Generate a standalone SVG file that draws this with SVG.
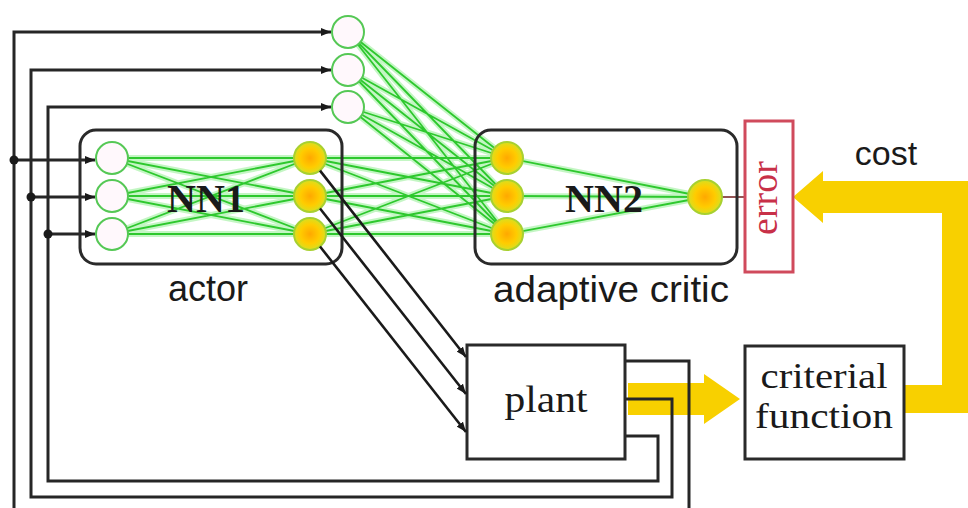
<svg xmlns="http://www.w3.org/2000/svg" xmlns:xlink="http://www.w3.org/1999/xlink" width="968" height="508" viewBox="0 0 968 508">
<style>
.box{fill:none;stroke:#2a2a2a;stroke-width:3}
.wire{fill:none;stroke:#262626;stroke-width:3}
.diag{fill:none;stroke:#1a1a1a;stroke-width:2.6}
.glow{fill:none;stroke:#9cf09c;stroke-width:6;opacity:.6}
.gl{fill:none;stroke:#2ec82e;stroke-width:1.8}
.nin{fill:#fff8fc;stroke:#55c855;stroke-width:2}
.nout{fill:url(#og);stroke:#a8d030;stroke-width:2}
.serif{font-family:"Liberation Serif","Times New Roman",serif;fill:#1a1a1a}
.sans{font-family:"Liberation Sans",Arial,sans-serif;fill:#1a1a1a}
.yel{fill:#f8d000}
</style>
<defs>
<radialGradient id="og" cx="50%" cy="50%" r="50%">
<stop offset="0%" stop-color="#ffa800"/>
<stop offset="60%" stop-color="#ffcc00"/>
<stop offset="100%" stop-color="#d8e020"/>
</radialGradient>
<marker id="ah" viewBox="0 0 10 8" refX="10" refY="4" markerWidth="10" markerHeight="8" markerUnits="userSpaceOnUse" orient="auto">
<path d="M0,0 L10,4 L0,8 z" fill="#1a1a1a"/>
</marker>
<path id="gpaths" d="M112 158L310 158M112 158L310 196M112 158L310 234M112 196L310 158M112 196L310 196M112 196L310 234M112 234L310 158M112 234L310 196M112 234L310 234M310 158L507 158M310 158L507 196M310 158L507 234M310 196L507 158M310 196L507 196M310 196L507 234M310 234L507 158M310 234L507 196M310 234L507 234M348 32L507 158M348 32L507 196M348 32L507 234M348 70L507 158M348 70L507 196M348 70L507 234M348 107L507 158M348 107L507 196M348 107L507 234M507 158L705 197M507 196L705 197M507 234L705 197"/>
</defs>
<rect width="968" height="508" fill="#ffffff"/>

<g id="connectors">
<use xlink:href="#gpaths" href="#gpaths" class="glow"/>
<use xlink:href="#gpaths" href="#gpaths" class="gl"/>
<polygon class="yel" points="628,383 704,383 704,374 740,399 704,424 704,415 628,415"/>
<polygon class="yel" points="904,385 942,385 942,213 823,213 823,223 793,197 823,171 823,181 968,181 968,413 904,413"/>
<path class="wire" d="M625 361H689V512"/>
<path class="wire" d="M14 512V32H331" marker-end="url(#ah)"/>
<path class="wire" d="M625 399H672V497H31V70H331" marker-end="url(#ah)"/>
<path class="wire" d="M625 436H658V481H48V107H331" marker-end="url(#ah)"/>
<path class="wire" d="M14 160H95" marker-end="url(#ah)"/>
<path class="wire" d="M31 197H95" marker-end="url(#ah)"/>
<path class="wire" d="M48 234H95" marker-end="url(#ah)"/>
<circle cx="14" cy="160" r="4.5" fill="#1a1a1a"/>
<circle cx="31" cy="197" r="4.5" fill="#1a1a1a"/>
<circle cx="48" cy="234" r="4.5" fill="#1a1a1a"/>
<path d="M722 197H745" stroke="#7a2a2a" stroke-width="1.6" fill="none"/>
</g>

<g id="top-inputs">
<circle class="nin" cx="348" cy="32" r="16"/>
<circle class="nin" cx="348" cy="70" r="16"/>
<circle class="nin" cx="348" cy="107" r="16"/>
</g>

<g id="actor">
<rect class="box" x="80" y="130" width="262" height="134" rx="16"/>
<circle class="nin" cx="112" cy="158" r="16"/>
<circle class="nin" cx="112" cy="196" r="16"/>
<circle class="nin" cx="112" cy="234" r="16"/>
<circle class="nout" cx="310" cy="158" r="16"/>
<circle class="nout" cx="310" cy="196" r="16"/>
<circle class="nout" cx="310" cy="234" r="16"/>
<text class="serif" x="206" y="212" font-size="40" font-weight="bold" text-anchor="middle">NN1</text>
<text class="sans" x="208" y="301" font-size="36" text-anchor="middle">actor</text>
</g>

<g id="critic">
<rect class="box" x="475" y="130" width="262" height="134" rx="16"/>
<circle class="nout" cx="507" cy="158" r="16"/>
<circle class="nout" cx="507" cy="196" r="16"/>
<circle class="nout" cx="507" cy="234" r="16"/>
<circle class="nout" cx="705" cy="197" r="17"/>
<text class="serif" x="604" y="212" font-size="40" font-weight="bold" text-anchor="middle">NN2</text>
<text class="sans" x="611" y="302" font-size="37" text-anchor="middle" textLength="236" lengthAdjust="spacingAndGlyphs">adaptive critic</text>
</g>

<g id="error">
<rect x="745" y="121" width="48" height="151" fill="#ffffff" stroke="#d04a5c" stroke-width="3"/>
<text class="serif" transform="translate(777,198) rotate(-90)" font-size="38" text-anchor="middle" style="fill:#c83048">error</text>
</g>

<g id="plant">
<rect class="box" x="467" y="345" width="158" height="114" fill="#ffffff"/>
<text class="serif" x="546" y="412" font-size="38" text-anchor="middle" textLength="83" lengthAdjust="spacingAndGlyphs">plant</text>
</g>

<g id="criterial">
<rect class="box" x="745" y="346" width="159" height="113"/>
<text class="serif" x="824" y="388" font-size="35" text-anchor="middle" textLength="127" lengthAdjust="spacingAndGlyphs">criterial</text>
<text class="serif" x="824" y="428" font-size="35" text-anchor="middle" textLength="138" lengthAdjust="spacingAndGlyphs">function</text>
</g>

<g id="cost-label">
<text class="sans" x="886" y="165" font-size="34" text-anchor="middle">cost</text>
</g>

<g id="actor-to-plant">
<path class="diag" d="M320 170.6L466 357" marker-end="url(#ah)"/>
<path class="diag" d="M320 208.5L466 394" marker-end="url(#ah)"/>
<path class="diag" d="M320 246.5L466 432" marker-end="url(#ah)"/>
</g>
</svg>
